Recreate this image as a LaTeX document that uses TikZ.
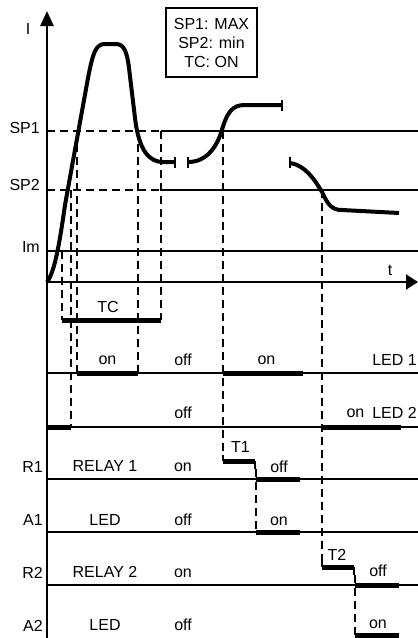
\documentclass[tikz,border=0pt]{standalone}
\usepackage{fontspec}
\setmainfont{Liberation Sans}
\usetikzlibrary{arrows.meta}
\begin{document}
\begin{tikzpicture}[x=1pt, y=-1pt, font=\fontsize{16}{19}\selectfont]

	% Styles
	\tikzset{
		axis/.style={line width=2.6pt, -{Triangle[length=15pt,width=13pt]}},
		taxis/.style={line width=2pt, -{Triangle[length=12pt,width=15pt]}},
		level/.style={line width=1.3pt},
		guide/.style={line width=1.3pt, dash pattern=on 8pt off 5pt},
		curve/.style={line width=4pt},
		bar/.style={line width=5pt},
		tick/.style={line width=1.4pt},
		txt/.style={inner sep=0pt},
		rowname/.style={inner sep=0pt, anchor=east},
	}

	\useasboundingbox (0,0) rectangle (418,638);

	% Legend box
	\node[draw, line width=1.2pt, minimum width=91pt, minimum height=69pt, align=center, inner sep=0pt] (legend) at (211.5,42.5) {SP1: MAX\\SP2: min\\TC: ON};

	% Axes
	\draw[axis] (47,638) -- (47,11);
	\draw[taxis] (47,282) -- (418,282);
	\node[txt] (ylabel) at (28,29) {I};
	\node[txt] (tlabel) at (390,270) {t};

	% Levels
	\draw[guide] (47,131) -- (161,131);
	\draw[level] (161,131) -- (418,131);
	\draw[guide] (47,190) -- (161,190);
	\draw[level] (161,190) -- (418,190);
	\draw[level] (47,251) -- (418,251);
	\node[rowname] (sp1) at (40,128) {SP1};
	\node[rowname] (sp2) at (40,185) {SP2};
	\node[rowname] (im) at (40,247) {Im};

	% Current curve, three pieces
	\draw[curve] (47,282) .. controls (55,272) and (60,240) .. (65,205) -- (88,78)
		.. controls (93,52) and (96,44) .. (105,44) -- (116,44)
		.. controls (124,44) and (127,52) .. (129,68) -- (135,118)
		.. controls (139,152) and (150,162) .. (163,162) -- (175,162);
	\draw[curve] (188,162) .. controls (205,162) and (215,150) .. (221,133)
		.. controls (227,112) and (232,105) .. (245,105) -- (282,105);
	\draw[curve] (290,163) .. controls (305,165) and (315,180) .. (322,192)
		.. controls (328,205) and (332,210) .. (342,210) -- (399,213);
	\draw[tick] (175,157) -- (175,168);
	\draw[tick] (188,157) -- (188,168);
	\draw[tick] (282,100) -- (282,111);
	\draw[tick] (290,157) -- (290,168);

	% Output rows
	\foreach \y in {373,427,479,532,585}
		\draw[level] (47,\y) -- (418,\y);

	% Switching instants
	\draw[guide] (62,251) -- (62,320);
	\draw[guide] (71,190) -- (71,427);
	\draw[guide] (77,131) -- (77,373);
	\draw[guide] (138,131) -- (138,373);
	\draw[guide] (161,131) -- (161,320);
	\draw[guide] (223,131) -- (223,455);
	\draw[guide] (256,469) -- (256,532);
	\draw[guide] (322,190) -- (322,562);
	\draw[guide] (355,575) -- (355,635);

	% State bars
	\draw[bar] (62,320) -- (161,320);
	\draw[bar] (77,373) -- (138,373);
	\draw[bar] (223,373) -- (303,373);
	\draw[bar] (47,427) -- (71,427);
	\draw[bar] (322,427) -- (401,427);
	\draw[tick] (223,455) -- (223,461);
	\draw[bar] (223,461) -- (255,461);
	\draw[tick] (255,461) -- (255,469);
	\draw[bar] (256,479) -- (300,479);
	\draw[bar] (256,532) -- (300,532);
	\draw[tick] (322,562) -- (322,567);
	\draw[bar] (322,567) -- (354,567);
	\draw[tick] (354,567) -- (354,575);
	\draw[bar] (355,585) -- (399,585);
	\draw[bar] (355,635) -- (399,635);

	% Texts
	\node[txt] (tc) at (108,307) {TC};
	\node[txt] (on1) at (107.5,360) {on};
	\node[txt] (off1) at (183,360) {off};
	\node[txt] (on2) at (266.5,360) {on};
	\node[txt, anchor=east] (led1) at (417,360) {LED 1};
	\node[txt] (off2) at (183,413) {off};
	\node[txt] (on3) at (355.5,413) {on};
	\node[txt, anchor=east] (led2) at (417,413) {LED 2};

	\node[rowname] (r1) at (43,467) {R1};
	\node[txt] (relay1) at (105,466) {RELAY 1};
	\node[txt] (r1on) at (183,467) {on};
	\node[txt] (t1) at (240.5,447) {T1};
	\node[txt] (r1off) at (279,467) {off};

	\node[rowname] (a1) at (43,520) {A1};
	\node[txt] (a1led) at (105,520) {LED};
	\node[txt] (a1off) at (183,520) {off};
	\node[txt] (a1on) at (279,521) {on};

	\node[rowname] (r2) at (43,573) {R2};
	\node[txt] (relay2) at (105,572) {RELAY 2};
	\node[txt] (r2on) at (183,573) {on};
	\node[txt] (t2) at (337,555) {T2};
	\node[txt] (r2off) at (378,571) {off};

	\node[rowname] (a2) at (43,626) {A2};
	\node[txt] (a2led) at (105,625) {LED};
	\node[txt] (a2off) at (183,625) {off};
	\node[txt] (a2on) at (378,624) {on};

\end{tikzpicture}
\end{document}
